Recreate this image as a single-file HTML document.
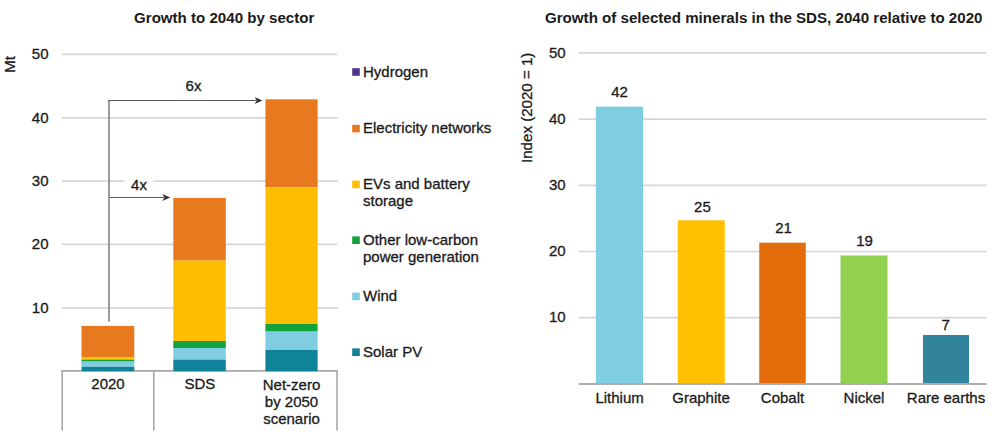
<!DOCTYPE html>
<html><head><meta charset="utf-8">
<style>
html,body{margin:0;padding:0;background:#fff;width:1000px;height:435px;overflow:hidden}
svg{display:block}
text{font-family:"Liberation Sans",sans-serif;fill:#1a1a1a;stroke:#1a1a1a;stroke-width:0.3px}
.t{font-weight:bold;font-size:15px;stroke-width:0}
.l{font-size:15px}
</style></head><body>
<svg width="1000" height="435" viewBox="0 0 1000 435">
<rect width="1000" height="435" fill="#fff"/>
<!-- LEFT CHART -->
<text class="t" x="224.2" y="23.3" text-anchor="middle" style="font-size:15.1px">Growth to 2040 by sector</text>
<text class="l" transform="translate(15.3,64.3) rotate(-90)" text-anchor="middle">Mt</text>
<g stroke="#d6d6d6" stroke-width="1.7">
<line x1="61.8" y1="54.46" x2="337.5" y2="54.46"/>
<line x1="61.8" y1="117.8" x2="337.5" y2="117.8"/>
<line x1="61.8" y1="181.1" x2="337.5" y2="181.1"/>
<line x1="61.8" y1="244.46" x2="337.5" y2="244.46"/>
<line x1="61.8" y1="307.8" x2="337.5" y2="307.8"/>
</g>
<g class="l" text-anchor="end">
<text x="48.5" y="59.4">50</text>
<text x="48.5" y="122.7">40</text>
<text x="48.5" y="186">30</text>
<text x="48.5" y="249.4">20</text>
<text x="48.5" y="312.7">10</text>
</g>
<g stroke="#a8a8a8" stroke-width="1.6">
<line x1="61.4" y1="370.9" x2="337.8" y2="370.9"/>
<line x1="62.2" y1="370" x2="62.2" y2="430.5"/>
<line x1="153.8" y1="370" x2="153.8" y2="430.5"/>
<line x1="337" y1="370" x2="337" y2="430.5"/>
</g>
<rect x="81.5" y="325.9" width="52.8" height="31.4" fill="#e8791f"/>
<rect x="81.5" y="357.3" width="52.8" height="2.3" fill="#ffbe00"/>
<rect x="81.5" y="359.6" width="52.8" height="2.0" fill="#14a23c"/>
<rect x="81.5" y="361.6" width="52.8" height="5.2" fill="#80cde2"/>
<rect x="81.5" y="366.8" width="52.8" height="4.4" fill="#0f8399"/>
<rect x="173.3" y="197.9" width="52.5" height="62.7" fill="#e8791f"/>
<rect x="173.3" y="260.6" width="52.5" height="80.4" fill="#ffbe00"/>
<rect x="173.3" y="341" width="52.5" height="7" fill="#14a23c"/>
<rect x="173.3" y="348" width="52.5" height="11.6" fill="#80cde2"/>
<rect x="173.3" y="359.6" width="52.5" height="11.6" fill="#0f8399"/>
<rect x="265.4" y="99.3" width="52.2" height="88.1" fill="#e8791f"/>
<rect x="265.4" y="187.4" width="52.2" height="136.6" fill="#ffbe00"/>
<rect x="265.4" y="324" width="52.2" height="7.6" fill="#14a23c"/>
<rect x="265.4" y="331.6" width="52.2" height="18.3" fill="#80cde2"/>
<rect x="265.4" y="349.9" width="52.2" height="21.3" fill="#0f8399"/>
<g class="l" text-anchor="middle">
<text x="108" y="389.4">2020</text>
<text x="199.8" y="389.1">SDS</text>
<text x="291.5" y="389.5">Net-zero</text>
<text x="291.5" y="406.8">by 2050</text>
<text x="291.5" y="423.6">scenario</text>
</g>
<g fill="none">
<line x1="109" y1="321.4" x2="109" y2="100" stroke="#8a8a8a" stroke-width="1.7"/>
<line x1="108.2" y1="100.5" x2="256" y2="100.5" stroke="#5c5c5c" stroke-width="1.2"/>
<line x1="109.8" y1="197.5" x2="164" y2="197.5" stroke="#5c5c5c" stroke-width="1.2"/>
</g>
<path d="M262.4,100.5 L254.7,97.1 L256.6,100.5 L254.7,103.9 Z" fill="#333"/>
<path d="M170.3,197.5 L162.4,193.9 L164.4,197.5 L162.4,201.1 Z" fill="#333"/>
<rect x="124.7" y="176" width="28.1" height="16" fill="#fff"/>
<text class="l" x="193.5" y="91.1" text-anchor="middle">6x</text>
<text class="l" x="139" y="190" text-anchor="middle">4x</text>
<g>
<rect x="352.2" y="68.2" width="7.6" height="7.6" fill="#4b3585"/>
<rect x="352.2" y="124.8" width="7.6" height="7.6" fill="#e8791f"/>
<rect x="352.2" y="180.6" width="7.6" height="7.6" fill="#ffbe00"/>
<rect x="352.2" y="236.4" width="7.6" height="7.6" fill="#14a23c"/>
<rect x="352.2" y="292.6" width="7.6" height="7.6" fill="#80cde2"/>
<rect x="352.2" y="348.4" width="7.6" height="7.6" fill="#0f8399"/>
</g>
<g class="l">
<text x="363" y="76.7">Hydrogen</text>
<text x="363" y="133.3">Electricity networks</text>
<text x="363" y="188.9">EVs and battery</text>
<text x="363" y="205.6">storage</text>
<text x="363" y="245.4">Other low-carbon</text>
<text x="363" y="262">power generation</text>
<text x="363" y="301.1">Wind</text>
<text x="363" y="356.6">Solar PV</text>
</g>
<!-- RIGHT CHART -->
<text class="t" x="763.75" y="23.2" text-anchor="middle" style="font-size:15.12px">Growth of selected minerals in the SDS, 2040 relative to 2020</text>
<text class="l" transform="translate(531.7,107.8) rotate(-90)" text-anchor="middle" style="font-size:15.1px">Index (2020 = 1)</text>
<g stroke="#d6d6d6" stroke-width="1.7">
<line x1="578.7" y1="52.9" x2="986.6" y2="52.9"/>
<line x1="578.7" y1="119.1" x2="986.6" y2="119.1"/>
<line x1="578.7" y1="185.3" x2="986.6" y2="185.3"/>
<line x1="578.7" y1="251.5" x2="986.6" y2="251.5"/>
<line x1="578.7" y1="317.7" x2="986.6" y2="317.7"/>
</g>
<g class="l" text-anchor="end">
<text x="565.6" y="58.2">50</text>
<text x="565.6" y="123.85">40</text>
<text x="565.6" y="189.7">30</text>
<text x="565.6" y="255.85">20</text>
<text x="565.6" y="322">10</text>
</g>
<rect x="595.9" y="106.6" width="47.1" height="277.4" fill="#80cee2"/>
<rect x="677.75" y="220.3" width="47" height="163.7" fill="#ffc000"/>
<rect x="759.25" y="242.7" width="46.5" height="141.3" fill="#e46c0a"/>
<rect x="840.5" y="255.5" width="47" height="128.5" fill="#92d050"/>
<rect x="923" y="335" width="46" height="49" fill="#31849c"/>
<line x1="578.7" y1="383.9" x2="986.6" y2="383.9" stroke="#adadad" stroke-width="2"/>
<g class="l" text-anchor="middle">
<text x="619.6" y="97">42</text>
<text x="702.4" y="212">25</text>
<text x="783.5" y="233">21</text>
<text x="864.5" y="246.3">19</text>
<text x="945.6" y="329.6">7</text>
<text x="619.6" y="403">Lithium</text>
<text x="701" y="403">Graphite</text>
<text x="782.5" y="403">Cobalt</text>
<text x="864" y="403">Nickel</text>
<text x="946" y="403">Rare earths</text>
</g>
</svg>
</body></html>
